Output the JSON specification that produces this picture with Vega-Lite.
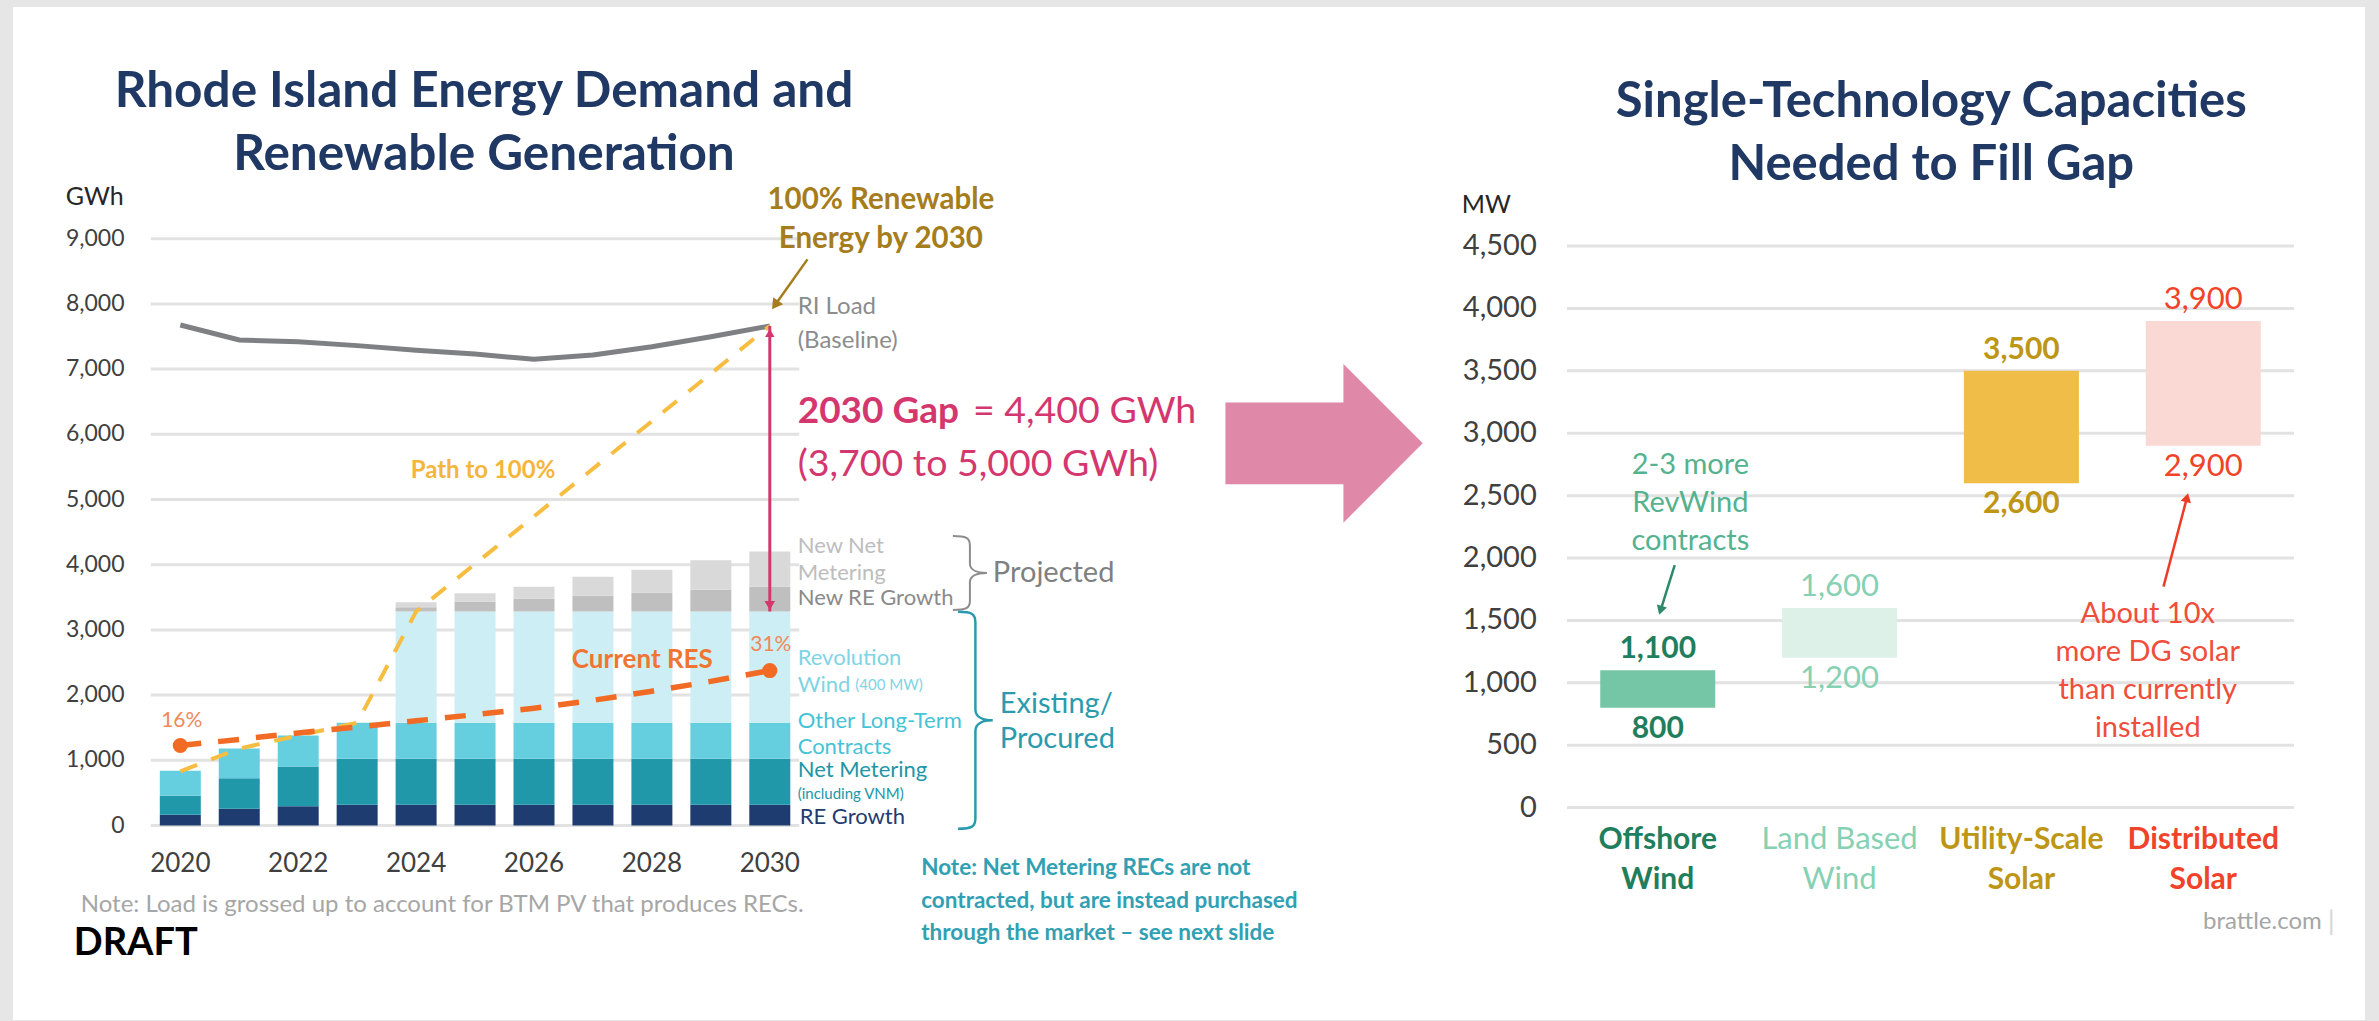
{
"$schema": "https://vega.github.io/schema/vega-lite/v6.json",
"width": 2352, "height": 1013,
"autosize": {"type": "none"},
"padding": {"left": 13, "top": 7, "right": 14, "bottom": 1},
"background": "#E6E6E6",
"config": {"font": "Lato", "view": {"stroke": null, "fill": "#FFFFFF"}, "axis": {"disable": true}},
"datasets": {
 "stack": [
  {"year":2020,"segment":"RE Growth","gwh":164},{"year":2020,"segment":"Net Metering","gwh":291},{"year":2020,"segment":"Other Long-Term Contracts","gwh":383},
  {"year":2021,"segment":"RE Growth","gwh":256},{"year":2021,"segment":"Net Metering","gwh":470},{"year":2021,"segment":"Other Long-Term Contracts","gwh":455},
  {"year":2022,"segment":"RE Growth","gwh":295},{"year":2022,"segment":"Net Metering","gwh":610},{"year":2022,"segment":"Other Long-Term Contracts","gwh":475},
  {"year":2023,"segment":"RE Growth","gwh":320},{"year":2023,"segment":"Net Metering","gwh":705},{"year":2023,"segment":"Other Long-Term Contracts","gwh":550},
  {"year":2024,"segment":"RE Growth","gwh":320},{"year":2024,"segment":"Net Metering","gwh":705},{"year":2024,"segment":"Other Long-Term Contracts","gwh":550},{"year":2024,"segment":"Revolution Wind","gwh":1707},{"year":2024,"segment":"New RE Growth","gwh":67},{"year":2024,"segment":"New Net Metering","gwh":76},
  {"year":2025,"segment":"RE Growth","gwh":320},{"year":2025,"segment":"Net Metering","gwh":705},{"year":2025,"segment":"Other Long-Term Contracts","gwh":550},{"year":2025,"segment":"Revolution Wind","gwh":1707},{"year":2025,"segment":"New RE Growth","gwh":148},{"year":2025,"segment":"New Net Metering","gwh":133},
  {"year":2026,"segment":"RE Growth","gwh":320},{"year":2026,"segment":"Net Metering","gwh":705},{"year":2026,"segment":"Other Long-Term Contracts","gwh":550},{"year":2026,"segment":"Revolution Wind","gwh":1707},{"year":2026,"segment":"New RE Growth","gwh":194},{"year":2026,"segment":"New Net Metering","gwh":184},
  {"year":2027,"segment":"RE Growth","gwh":320},{"year":2027,"segment":"Net Metering","gwh":705},{"year":2027,"segment":"Other Long-Term Contracts","gwh":550},{"year":2027,"segment":"Revolution Wind","gwh":1707},{"year":2027,"segment":"New RE Growth","gwh":240},{"year":2027,"segment":"New Net Metering","gwh":292},
  {"year":2028,"segment":"RE Growth","gwh":320},{"year":2028,"segment":"Net Metering","gwh":705},{"year":2028,"segment":"Other Long-Term Contracts","gwh":550},{"year":2028,"segment":"Revolution Wind","gwh":1707},{"year":2028,"segment":"New RE Growth","gwh":286},{"year":2028,"segment":"New Net Metering","gwh":353},
  {"year":2029,"segment":"RE Growth","gwh":320},{"year":2029,"segment":"Net Metering","gwh":705},{"year":2029,"segment":"Other Long-Term Contracts","gwh":550},{"year":2029,"segment":"Revolution Wind","gwh":1707},{"year":2029,"segment":"New RE Growth","gwh":333},{"year":2029,"segment":"New Net Metering","gwh":455},
  {"year":2030,"segment":"RE Growth","gwh":320},{"year":2030,"segment":"Net Metering","gwh":705},{"year":2030,"segment":"Other Long-Term Contracts","gwh":550},{"year":2030,"segment":"Revolution Wind","gwh":1707},{"year":2030,"segment":"New RE Growth","gwh":378},{"year":2030,"segment":"New Net Metering","gwh":542}
 ],
 "load": [{"year":2020,"gwh":7676},{"year":2021,"gwh":7446},{"year":2022,"gwh":7420},{"year":2023,"gwh":7360},{"year":2024,"gwh":7290},{"year":2025,"gwh":7230},{"year":2026,"gwh":7150},{"year":2027,"gwh":7216},{"year":2028,"gwh":7344},{"year":2029,"gwh":7497},{"year":2030,"gwh":7661}],
 "path": [{"year":2020,"gwh":830},{"year":2021,"gwh":1180},{"year":2022,"gwh":1380},{"year":2023,"gwh":1575},{"year":2024,"gwh":3282},{"year":2030,"gwh":7661}],
 "res": [{"year":2020,"gwh":1227},{"year":2021,"gwh":1320},{"year":2022,"gwh":1420},{"year":2023,"gwh":1510},{"year":2024,"gwh":1605},{"year":2025,"gwh":1700},{"year":2026,"gwh":1800},{"year":2027,"gwh":1920},{"year":2028,"gwh":2060},{"year":2029,"gwh":2210},{"year":2030,"gwh":2377}],
 "gap": [{"year":2030,"load":7661,"existing":3282}],
 "gwhTicks": [{"gwh":0},{"gwh":1000},{"gwh":2000},{"gwh":3000},{"gwh":4000},{"gwh":5000},{"gwh":6000},{"gwh":7000},{"gwh":8000},{"gwh":9000}],
 "capacity": [{"technology":"Offshore Wind","label":["Offshore","Wind"],"low":800,"high":1100},{"technology":"Land Based Wind","label":["Land Based","Wind"],"low":1200,"high":1600},{"technology":"Utility-Scale Solar","label":["Utility-Scale","Solar"],"low":2600,"high":3500},{"technology":"Distributed Solar","label":["Distributed","Solar"],"low":2900,"high":3900}],
 "mwTicks": [{"mw":0},{"mw":500},{"mw":1000},{"mw":1500},{"mw":2000},{"mw":2500},{"mw":3000},{"mw":3500},{"mw":4000},{"mw":4500}]
},
"layer": [
{
 "layer": [
  {"data": {"name": "gwhTicks"},
   "mark": {"type": "rule", "color": "#E2E2E2", "strokeWidth": 3},
   "encoding": {
    "y": {"field": "gwh", "type": "quantitative", "scale": {"domain": [-2983.1, 12553.7], "nice": false, "zero": false}, "axis": null},
    "x": {"datum": 2019.5, "type": "quantitative", "scale": {"domain": [2017.2466, 2056.9764], "nice": false, "zero": false}, "axis": null},
    "x2": {"datum": 2030.5}}},
  {"data": {"name": "gwhTicks"},
   "mark": {"type": "text", "font": "Lato", "fontSize": 23, "color": "#404040", "align": "right", "baseline": "middle"},
   "encoding": {
    "y": {"field": "gwh", "type": "quantitative", "scale": {"domain": [-2983.1, 12553.7], "nice": false, "zero": false}, "axis": null},
    "x": {"datum": 2019.054, "type": "quantitative", "scale": {"domain": [2017.2466, 2056.9764], "nice": false, "zero": false}, "axis": null},
    "text": {"field": "gwh", "type": "quantitative", "format": ","}}},
  {"data": {"name": "load"},
   "transform": [{"filter": "datum.year % 2 == 0"}],
   "mark": {"type": "text", "font": "Lato", "fontSize": 26, "color": "#404040", "align": "center", "baseline": "middle"},
   "encoding": {
    "x": {"field": "year", "type": "quantitative", "scale": {"domain": [2017.2466, 2056.9764], "nice": false, "zero": false}, "axis": null},
    "y": {"datum": -590.5, "type": "quantitative", "scale": {"domain": [-2983.1, 12553.7], "nice": false, "zero": false}, "axis": null},
    "text": {"field": "year", "type": "quantitative", "format": "d"}}},
  {"data": {"name": "stack"},
   "transform": [{"window": [{"op": "row_number", "as": "rank"}], "groupby": ["year"]}],
   "mark": {"type": "bar", "width": 41, "orient": "vertical"},
   "encoding": {
    "x": {"field": "year", "type": "quantitative", "scale": {"domain": [2017.2466, 2056.9764], "nice": false, "zero": false}, "axis": null},
    "y": {"field": "gwh", "type": "quantitative", "stack": "zero", "scale": {"domain": [-2983.1, 12553.7], "nice": false, "zero": false}, "axis": null},
    "color": {"field": "segment", "type": "nominal", "legend": null,
      "scale": {"domain": ["RE Growth","Net Metering","Other Long-Term Contracts","Revolution Wind","New RE Growth","New Net Metering"], "range": ["#1F3C70","#2198AA","#66CFDF","#CDEEF4","#BFBFBF","#D9D9D9"]}},
    "order": {"field": "rank", "type": "quantitative", "sort": "ascending"}}},
  {"data": {"name": "load"},
   "mark": {"type": "line", "color": "#7F8084", "strokeWidth": 5},
   "encoding": {"x": {"field": "year", "type": "quantitative", "scale": {"domain": [2017.2466, 2056.9764], "nice": false, "zero": false}, "axis": null},
     "y": {"field": "gwh", "type": "quantitative", "scale": {"domain": [-2983.1, 12553.7], "nice": false, "zero": false}, "axis": null}}},
  {"data": {"name": "path"},
   "mark": {"type": "line", "color": "#F6BD40", "strokeWidth": 4, "strokeDash": [18, 15]},
   "encoding": {"x": {"field": "year", "type": "quantitative", "scale": {"domain": [2017.2466, 2056.9764], "nice": false, "zero": false}, "axis": null},
     "y": {"field": "gwh", "type": "quantitative", "scale": {"domain": [-2983.1, 12553.7], "nice": false, "zero": false}, "axis": null}}},
  {"data": {"name": "res"},
   "mark": {"type": "line", "color": "#F26B24", "strokeWidth": 5.5, "strokeDash": [21, 17]},
   "encoding": {"x": {"field": "year", "type": "quantitative", "scale": {"domain": [2017.2466, 2056.9764], "nice": false, "zero": false}, "axis": null},
     "y": {"field": "gwh", "type": "quantitative", "scale": {"domain": [-2983.1, 12553.7], "nice": false, "zero": false}, "axis": null}}},
  {"data": {"name": "res"},
   "transform": [{"filter": "datum.year == 2020 || datum.year == 2030"}],
   "mark": {"type": "point", "filled": true, "size": 230, "color": "#F26B24", "opacity": 1},
   "encoding": {"x": {"field": "year", "type": "quantitative", "scale": {"domain": [2017.2466, 2056.9764], "nice": false, "zero": false}, "axis": null},
     "y": {"field": "gwh", "type": "quantitative", "scale": {"domain": [-2983.1, 12553.7], "nice": false, "zero": false}, "axis": null}}},
  {"data": {"name": "gap"},
   "mark": {"type": "rule", "color": "#D4376E", "strokeWidth": 3},
   "encoding": {"x": {"field": "year", "type": "quantitative", "scale": {"domain": [2017.2466, 2056.9764], "nice": false, "zero": false}, "axis": null},
     "y": {"field": "load", "type": "quantitative", "scale": {"domain": [-2983.1, 12553.7], "nice": false, "zero": false}, "axis": null},
     "y2": {"field": "existing"}}},
  {"data": {"name": "gap"},
   "mark": {"type": "point", "shape": "triangle-up", "filled": true, "size": 90, "color": "#D4376E", "opacity": 1, "yOffset": 7},
   "encoding": {"x": {"field": "year", "type": "quantitative", "scale": {"domain": [2017.2466, 2056.9764], "nice": false, "zero": false}, "axis": null},
     "y": {"field": "load", "type": "quantitative", "scale": {"domain": [-2983.1, 12553.7], "nice": false, "zero": false}, "axis": null}}},
  {"data": {"name": "gap"},
   "mark": {"type": "point", "shape": "triangle-down", "filled": true, "size": 110, "color": "#D4376E", "opacity": 1, "yOffset": -6},
   "encoding": {"x": {"field": "year", "type": "quantitative", "scale": {"domain": [2017.2466, 2056.9764], "nice": false, "zero": false}, "axis": null},
     "y": {"field": "existing", "type": "quantitative", "scale": {"domain": [-2983.1, 12553.7], "nice": false, "zero": false}, "axis": null}}},
  {"data": {"values": [{"year": 2030.639, "gwh": 8683, "year2": 2030.09, "gwh2": 7983}]},
   "mark": {"type": "rule", "color": "#A57D1C", "strokeWidth": 2.5},
   "encoding": {"x": {"field": "year", "type": "quantitative", "scale": {"domain": [2017.2466, 2056.9764], "nice": false, "zero": false}, "axis": null},
     "y": {"field": "gwh", "type": "quantitative", "scale": {"domain": [-2983.1, 12553.7], "nice": false, "zero": false}, "axis": null},
     "x2": {"field": "year2"}, "y2": {"field": "gwh2"}}},
  {"data": {"values": [{"year": 2030.09, "gwh": 7983}]},
   "mark": {"type": "point", "shape": "triangle-down", "angle": 35.4, "filled": true, "size": 150, "color": "#A57D1C", "opacity": 1},
   "encoding": {"x": {"field": "year", "type": "quantitative", "scale": {"domain": [2017.2466, 2056.9764], "nice": false, "zero": false}, "axis": null},
     "y": {"field": "gwh", "type": "quantitative", "scale": {"domain": [-2983.1, 12553.7], "nice": false, "zero": false}, "axis": null}}},
  {"data": {"values": [{"year": 2033.395, "gwh": 3873}]},
   "mark": {"type": "point", "shape": "M-0.46,-1C-0.1,-1 0,-0.95 0,-0.75L0,-0.25C0,-0.08 0.2,0 0.46,0C0.2,0 0,0.08 0,0.25L0,0.75C0,0.95 -0.1,1 -0.46,1", "filled": false, "size": 5476, "color": "#8C8C8C", "strokeWidth": 2, "opacity": 1},
   "encoding": {"x": {"field": "year", "type": "quantitative", "scale": {"domain": [2017.2466, 2056.9764], "nice": false, "zero": false}, "axis": null},
     "y": {"field": "gwh", "type": "quantitative", "scale": {"domain": [-2983.1, 12553.7], "nice": false, "zero": false}, "axis": null}}},
  {"data": {"values": [{"year": 2033.488, "gwh": 1613}]},
   "mark": {"type": "point", "shape": "M-0.16,-1C-0.03,-1 0,-0.98 0,-0.9L0,-0.1C0,-0.03 0.07,0 0.16,0C0.07,0 0,0.03 0,0.1L0,0.9C0,0.98 -0.03,1 -0.16,1", "filled": false, "size": 47089, "color": "#2A9BAE", "strokeWidth": 2.5, "opacity": 1},
   "encoding": {"x": {"field": "year", "type": "quantitative", "scale": {"domain": [2017.2466, 2056.9764], "nice": false, "zero": false}, "axis": null},
     "y": {"field": "gwh", "type": "quantitative", "scale": {"domain": [-2983.1, 12553.7], "nice": false, "zero": false}, "axis": null}}},
  {"data": {"values": [{"year": 2039.403, "gwh": 5861}]},
   "mark": {"type": "point", "shape": "M-1,-0.414L0.196,-0.414L0.196,-0.804L1,0L0.196,0.804L0.196,0.414L-1,0.414Z", "filled": true, "size": 38927, "color": "#E088A8", "opacity": 1},
   "encoding": {"x": {"field": "year", "type": "quantitative", "scale": {"domain": [2017.2466, 2056.9764], "nice": false, "zero": false}, "axis": null},
     "y": {"field": "gwh", "type": "quantitative", "scale": {"domain": [-2983.1, 12553.7], "nice": false, "zero": false}, "axis": null}}},
  {"data": {"values": [{"year": 2025.152, "gwh": 11255, "label": ["Rhode Island Energy Demand and", "Renewable Generation"]}]},
   "mark": {"type": "text", "font": "Lato", "fontSize": 49.5, "fontWeight": "bold", "color": "#1F3864", "align": "center", "baseline": "middle", "lineHeight": 63},
   "encoding": {"x": {"field": "year", "type": "quantitative", "scale": {"domain": [2017.2466, 2056.9764], "nice": false, "zero": false}, "axis": null},
     "y": {"field": "gwh", "type": "quantitative", "scale": {"domain": [-2983.1, 12553.7], "nice": false, "zero": false}, "axis": null}, "text": {"field": "label"}}},
  {"data": {"values": [{"year": 2018.057, "gwh": 9644, "label": "GWh"}]},
   "mark": {"type": "text", "font": "Lato", "fontSize": 25, "color": "#262626", "align": "left", "baseline": "middle"},
   "encoding": {"x": {"field": "year", "type": "quantitative", "scale": {"domain": [2017.2466, 2056.9764], "nice": false, "zero": false}, "axis": null},
     "y": {"field": "gwh", "type": "quantitative", "scale": {"domain": [-2983.1, 12553.7], "nice": false, "zero": false}, "axis": null}, "text": {"field": "label"}}},
  {"data": {"values": [{"year": 2031.884, "gwh": 9597, "label": ["100% Renewable", "Energy by 2030"]}]},
   "mark": {"type": "text", "font": "Lato", "fontSize": 29.5, "fontWeight": "bold", "color": "#A57D1C", "align": "center", "baseline": "middle", "lineHeight": 39},
   "encoding": {"x": {"field": "year", "type": "quantitative", "scale": {"domain": [2017.2466, 2056.9764], "nice": false, "zero": false}, "axis": null},
     "y": {"field": "gwh", "type": "quantitative", "scale": {"domain": [-2983.1, 12553.7], "nice": false, "zero": false}, "axis": null}, "text": {"field": "label"}}},
  {"data": {"values": [{"year": 2030.473, "gwh": 7946, "label": ["RI Load", "(Baseline)"]}]},
   "mark": {"type": "text", "font": "Lato", "fontSize": 24, "color": "#8C8C8C", "align": "left", "baseline": "middle", "lineHeight": 33.5},
   "encoding": {"x": {"field": "year", "type": "quantitative", "scale": {"domain": [2017.2466, 2056.9764], "nice": false, "zero": false}, "axis": null},
     "y": {"field": "gwh", "type": "quantitative", "scale": {"domain": [-2983.1, 12553.7], "nice": false, "zero": false}, "axis": null}, "text": {"field": "label"}}},
  {"data": {"values": [{"year": 2030.473, "gwh": 6337, "label": "2030 Gap"}]},
   "mark": {"type": "text", "font": "Lato", "fontSize": 37, "fontWeight": "bold", "color": "#D4376E", "align": "left", "baseline": "middle"},
   "encoding": {"x": {"field": "year", "type": "quantitative", "scale": {"domain": [2017.2466, 2056.9764], "nice": false, "zero": false}, "axis": null},
     "y": {"field": "gwh", "type": "quantitative", "scale": {"domain": [-2983.1, 12553.7], "nice": false, "zero": false}, "axis": null}, "text": {"field": "label"}}},
  {"data": {"values": [{"year": 2033.446, "gwh": 6337, "label": "= 4,400 GWh"}, {"year": 2030.473, "gwh": 5534, "label": "(3,700 to 5,000 GWh)"}]},
   "mark": {"type": "text", "font": "Lato", "fontSize": 37.5, "color": "#D4376E", "align": "left", "baseline": "middle"},
   "encoding": {"x": {"field": "year", "type": "quantitative", "scale": {"domain": [2017.2466, 2056.9764], "nice": false, "zero": false}, "axis": null},
     "y": {"field": "gwh", "type": "quantitative", "scale": {"domain": [-2983.1, 12553.7], "nice": false, "zero": false}, "axis": null}, "text": {"field": "label"}}},
  {"data": {"values": [{"year": 2025.135, "gwh": 5440, "label": "Path to 100%"}]},
   "mark": {"type": "text", "font": "Lato", "fontSize": 24, "fontWeight": "bold", "color": "#F4B63A", "align": "center", "baseline": "middle"},
   "encoding": {"x": {"field": "year", "type": "quantitative", "scale": {"domain": [2017.2466, 2056.9764], "nice": false, "zero": false}, "axis": null},
     "y": {"field": "gwh", "type": "quantitative", "scale": {"domain": [-2983.1, 12553.7], "nice": false, "zero": false}, "axis": null}, "text": {"field": "label"}}},
  {"data": {"values": [{"year": 2027.838, "gwh": 2538, "label": "Current RES"}]},
   "mark": {"type": "text", "font": "Lato", "fontSize": 26, "fontWeight": "bold", "color": "#F07533", "align": "center", "baseline": "middle"},
   "encoding": {"x": {"field": "year", "type": "quantitative", "scale": {"domain": [2017.2466, 2056.9764], "nice": false, "zero": false}, "axis": null},
     "y": {"field": "gwh", "type": "quantitative", "scale": {"domain": [-2983.1, 12553.7], "nice": false, "zero": false}, "axis": null}, "text": {"field": "label"}}},
  {"data": {"values": [{"year": 2020.025, "gwh": 1610, "label": "16%"}, {"year": 2030.017, "gwh": 2768, "label": "31%"}]},
   "mark": {"type": "text", "font": "Lato", "fontSize": 21, "color": "#F0895A", "align": "center", "baseline": "middle"},
   "encoding": {"x": {"field": "year", "type": "quantitative", "scale": {"domain": [2017.2466, 2056.9764], "nice": false, "zero": false}, "axis": null},
     "y": {"field": "gwh", "type": "quantitative", "scale": {"domain": [-2983.1, 12553.7], "nice": false, "zero": false}, "axis": null}, "text": {"field": "label"}}},
  {"data": {"values": [{"year": 2030.473, "gwh": 4287, "label": ["New Net", "Metering"]}]},
   "mark": {"type": "text", "font": "Lato", "fontSize": 22, "color": "#BDBDBD", "align": "left", "baseline": "middle", "lineHeight": 27},
   "encoding": {"x": {"field": "year", "type": "quantitative", "scale": {"domain": [2017.2466, 2056.9764], "nice": false, "zero": false}, "axis": null},
     "y": {"field": "gwh", "type": "quantitative", "scale": {"domain": [-2983.1, 12553.7], "nice": false, "zero": false}, "axis": null}, "text": {"field": "label"}}},
  {"data": {"values": [{"year": 2030.473, "gwh": 3489, "label": "New RE Growth"}]},
   "mark": {"type": "text", "font": "Lato", "fontSize": 22, "color": "#8A8A8A", "align": "left", "baseline": "middle"},
   "encoding": {"x": {"field": "year", "type": "quantitative", "scale": {"domain": [2017.2466, 2056.9764], "nice": false, "zero": false}, "axis": null},
     "y": {"field": "gwh", "type": "quantitative", "scale": {"domain": [-2983.1, 12553.7], "nice": false, "zero": false}, "axis": null}, "text": {"field": "label"}}},
  {"data": {"values": [{"year": 2030.473, "gwh": 2569, "label": "Revolution"}, {"year": 2030.473, "gwh": 2155, "label": "Wind"}]},
   "mark": {"type": "text", "font": "Lato", "fontSize": 22, "color": "#7FD4E4", "align": "left", "baseline": "middle"},
   "encoding": {"x": {"field": "year", "type": "quantitative", "scale": {"domain": [2017.2466, 2056.9764], "nice": false, "zero": false}, "axis": null},
     "y": {"field": "gwh", "type": "quantitative", "scale": {"domain": [-2983.1, 12553.7], "nice": false, "zero": false}, "axis": null}, "text": {"field": "label"}}},
  {"data": {"values": [{"year": 2031.45, "gwh": 2155, "label": "(400 MW)"}]},
   "mark": {"type": "text", "font": "Lato", "fontSize": 15, "color": "#7FD4E4", "align": "left", "baseline": "middle"},
   "encoding": {"x": {"field": "year", "type": "quantitative", "scale": {"domain": [2017.2466, 2056.9764], "nice": false, "zero": false}, "axis": null},
     "y": {"field": "gwh", "type": "quantitative", "scale": {"domain": [-2983.1, 12553.7], "nice": false, "zero": false}, "axis": null}, "text": {"field": "label"}}},
  {"data": {"values": [{"year": 2030.473, "gwh": 1610, "label": ["Other Long-Term", "Contracts"]}]},
   "mark": {"type": "text", "font": "Lato", "fontSize": 22, "color": "#45C3D7", "align": "left", "baseline": "middle", "lineHeight": 26.5},
   "encoding": {"x": {"field": "year", "type": "quantitative", "scale": {"domain": [2017.2466, 2056.9764], "nice": false, "zero": false}, "axis": null},
     "y": {"field": "gwh", "type": "quantitative", "scale": {"domain": [-2983.1, 12553.7], "nice": false, "zero": false}, "axis": null}, "text": {"field": "label"}}},
  {"data": {"values": [{"year": 2030.473, "gwh": 844, "label": "Net Metering"}]},
   "mark": {"type": "text", "font": "Lato", "fontSize": 22, "color": "#2196A8", "align": "left", "baseline": "middle"},
   "encoding": {"x": {"field": "year", "type": "quantitative", "scale": {"domain": [2017.2466, 2056.9764], "nice": false, "zero": false}, "axis": null},
     "y": {"field": "gwh", "type": "quantitative", "scale": {"domain": [-2983.1, 12553.7], "nice": false, "zero": false}, "axis": null}, "text": {"field": "label"}}},
  {"data": {"values": [{"year": 2030.473, "gwh": 483, "label": "(including VNM)"}]},
   "mark": {"type": "text", "font": "Lato", "fontSize": 15, "color": "#2196A8", "align": "left", "baseline": "middle"},
   "encoding": {"x": {"field": "year", "type": "quantitative", "scale": {"domain": [2017.2466, 2056.9764], "nice": false, "zero": false}, "axis": null},
     "y": {"field": "gwh", "type": "quantitative", "scale": {"domain": [-2983.1, 12553.7], "nice": false, "zero": false}, "axis": null}, "text": {"field": "label"}}},
  {"data": {"values": [{"year": 2030.507, "gwh": 130, "label": "RE Growth"}]},
   "mark": {"type": "text", "font": "Lato", "fontSize": 22, "color": "#1F3B6F", "align": "left", "baseline": "middle"},
   "encoding": {"x": {"field": "year", "type": "quantitative", "scale": {"domain": [2017.2466, 2056.9764], "nice": false, "zero": false}, "axis": null},
     "y": {"field": "gwh", "type": "quantitative", "scale": {"domain": [-2983.1, 12553.7], "nice": false, "zero": false}, "axis": null}, "text": {"field": "label"}}},
  {"data": {"values": [{"year": 2033.784, "gwh": 3873, "label": "Projected"}]},
   "mark": {"type": "text", "font": "Lato", "fontSize": 29, "color": "#808080", "align": "left", "baseline": "middle"},
   "encoding": {"x": {"field": "year", "type": "quantitative", "scale": {"domain": [2017.2466, 2056.9764], "nice": false, "zero": false}, "axis": null},
     "y": {"field": "gwh", "type": "quantitative", "scale": {"domain": [-2983.1, 12553.7], "nice": false, "zero": false}, "axis": null}, "text": {"field": "label"}}},
  {"data": {"values": [{"year": 2033.902, "gwh": 1870, "label": ["Existing/", "Procured"]}]},
   "mark": {"type": "text", "font": "Lato", "fontSize": 29, "color": "#2A9BAE", "align": "left", "baseline": "middle", "lineHeight": 35.7},
   "encoding": {"x": {"field": "year", "type": "quantitative", "scale": {"domain": [2017.2466, 2056.9764], "nice": false, "zero": false}, "axis": null},
     "y": {"field": "gwh", "type": "quantitative", "scale": {"domain": [-2983.1, 12553.7], "nice": false, "zero": false}, "axis": null}, "text": {"field": "label"}}},
  {"data": {"values": [{"year": 2018.311, "gwh": -1215, "label": "Note: Load is grossed up to account for BTM PV that produces RECs."}]},
   "mark": {"type": "text", "font": "Lato", "fontSize": 24, "color": "#A6A6A6", "align": "left", "baseline": "middle"},
   "encoding": {"x": {"field": "year", "type": "quantitative", "scale": {"domain": [2017.2466, 2056.9764], "nice": false, "zero": false}, "axis": null},
     "y": {"field": "gwh", "type": "quantitative", "scale": {"domain": [-2983.1, 12553.7], "nice": false, "zero": false}, "axis": null}, "text": {"field": "label"}}},
  {"data": {"values": [{"year": 2018.193, "gwh": -1817, "label": "DRAFT"}]},
   "mark": {"type": "text", "font": "Lato", "fontSize": 38, "fontWeight": "bold", "color": "#000000", "align": "left", "baseline": "middle"},
   "encoding": {"x": {"field": "year", "type": "quantitative", "scale": {"domain": [2017.2466, 2056.9764], "nice": false, "zero": false}, "axis": null},
     "y": {"field": "gwh", "type": "quantitative", "scale": {"domain": [-2983.1, 12553.7], "nice": false, "zero": false}, "axis": null}, "text": {"field": "label"}}},
  {"data": {"values": [{"year": 2032.568, "gwh": -652, "label": ["Note: Net Metering RECs are not", "contracted, but are instead purchased", "through the market – see next slide"]}]},
   "mark": {"type": "text", "font": "Lato", "fontSize": 22.5, "fontWeight": "bold", "color": "#31A0B3", "align": "left", "baseline": "middle", "lineHeight": 32.5},
   "encoding": {"x": {"field": "year", "type": "quantitative", "scale": {"domain": [2017.2466, 2056.9764], "nice": false, "zero": false}, "axis": null},
     "y": {"field": "gwh", "type": "quantitative", "scale": {"domain": [-2983.1, 12553.7], "nice": false, "zero": false}, "axis": null}, "text": {"field": "label"}}}
 ]
},
{
 "layer": [
  {"data": {"name": "mwTicks"},
   "mark": {"type": "rule", "color": "#E2E2E2", "strokeWidth": 3, "xOffset": -33.25, "x2Offset": 33.25},
   "encoding": {
    "y": {"field": "mw", "type": "quantitative", "scale": {"domain": [-1702.2, 6416.1], "nice": false, "zero": false}, "axis": null},
    "x": {"datum": "Offshore Wind", "type": "nominal", "bandPosition": 0, "scale": {"type": "band", "domain": ["Offshore Wind","Land Based Wind","Utility-Scale Solar","Distributed Solar"], "range": [1554, 2281], "paddingInner": 0.3675, "paddingOuter": 0.1828, "round": false}, "axis": null},
    "x2": {"datum": "Distributed Solar", "bandPosition": 1}}},
  {"data": {"name": "mwTicks"},
   "mark": {"type": "text", "font": "Lato", "fontSize": 29, "color": "#404040", "align": "right", "baseline": "middle", "dx": -121},
   "encoding": {
    "y": {"field": "mw", "type": "quantitative", "scale": {"domain": [-1702.2, 6416.1], "nice": false, "zero": false}, "axis": null},
    "x": {"datum": "Offshore Wind", "type": "nominal", "scale": {"type": "band", "domain": ["Offshore Wind","Land Based Wind","Utility-Scale Solar","Distributed Solar"], "range": [1554, 2281], "paddingInner": 0.3675, "paddingOuter": 0.1828, "round": false}, "axis": null},
    "text": {"field": "mw", "type": "quantitative", "format": ","}}},
  {"data": {"name": "capacity"},
   "mark": {"type": "bar"},
   "encoding": {
    "x": {"field": "technology", "type": "nominal", "scale": {"type": "band", "domain": ["Offshore Wind","Land Based Wind","Utility-Scale Solar","Distributed Solar"], "range": [1554, 2281], "paddingInner": 0.3675, "paddingOuter": 0.1828, "round": false}, "axis": null},
    "y": {"field": "low", "type": "quantitative", "scale": {"domain": [-1702.2, 6416.1], "nice": false, "zero": false}, "axis": null},
    "y2": {"field": "high"},
    "color": {"field": "technology", "type": "nominal", "legend": null, "scale": {"domain": ["Offshore Wind","Land Based Wind","Utility-Scale Solar","Distributed Solar"], "range": ["#74C6A6","#DDF1E9","#F0BD48","#FAD8D3"]}}}},
  {"data": {"name": "capacity"},
   "transform": [{"filter": "datum.technology != 'Land Based Wind'"}],
   "mark": {"type": "text", "font": "Lato", "fontSize": 30, "fontWeight": "bold", "baseline": "middle", "align": "center", "lineHeight": 40},
   "encoding": {
    "x": {"field": "technology", "type": "nominal", "scale": {"type": "band", "domain": ["Offshore Wind","Land Based Wind","Utility-Scale Solar","Distributed Solar"], "range": [1554, 2281], "paddingInner": 0.3675, "paddingOuter": 0.1828, "round": false}, "axis": null},
    "y": {"datum": -256.5, "type": "quantitative", "scale": {"domain": [-1702.2, 6416.1], "nice": false, "zero": false}, "axis": null},
    "text": {"field": "label"},
    "color": {"field": "technology", "type": "nominal", "legend": null, "scale": {"domain": ["Offshore Wind","Land Based Wind","Utility-Scale Solar","Distributed Solar"], "range": ["#1F7E5C","#86D1B3","#BE9615","#F0432A"]}}}},
  {"data": {"name": "capacity"},
   "transform": [{"filter": "datum.technology == 'Land Based Wind'"}],
   "mark": {"type": "text", "font": "Lato", "fontSize": 31, "baseline": "middle", "align": "center", "lineHeight": 40},
   "encoding": {
    "x": {"field": "technology", "type": "nominal", "scale": {"type": "band", "domain": ["Offshore Wind","Land Based Wind","Utility-Scale Solar","Distributed Solar"], "range": [1554, 2281], "paddingInner": 0.3675, "paddingOuter": 0.1828, "round": false}, "axis": null},
    "y": {"datum": -256.5, "type": "quantitative", "scale": {"domain": [-1702.2, 6416.1], "nice": false, "zero": false}, "axis": null},
    "text": {"field": "label"},
    "color": {"field": "technology", "type": "nominal", "legend": null, "scale": {"domain": ["Offshore Wind","Land Based Wind","Utility-Scale Solar","Distributed Solar"], "range": ["#1F7E5C","#86D1B3","#BE9615","#F0432A"]}}}},
  {"data": {"name": "capacity"},
   "transform": [{"filter": "datum.technology == 'Offshore Wind' || datum.technology == 'Utility-Scale Solar'"}],
   "mark": {"type": "text", "font": "Lato", "fontSize": 30, "fontWeight": "bold", "baseline": "middle", "align": "center", "dy": -21},
   "encoding": {
    "x": {"field": "technology", "type": "nominal", "scale": {"type": "band", "domain": ["Offshore Wind","Land Based Wind","Utility-Scale Solar","Distributed Solar"], "range": [1554, 2281], "paddingInner": 0.3675, "paddingOuter": 0.1828, "round": false}, "axis": null},
    "y": {"field": "high", "type": "quantitative", "scale": {"domain": [-1702.2, 6416.1], "nice": false, "zero": false}, "axis": null},
    "text": {"field": "high", "type": "quantitative", "format": ","},
    "color": {"field": "technology", "type": "nominal", "legend": null, "scale": {"domain": ["Offshore Wind","Land Based Wind","Utility-Scale Solar","Distributed Solar"], "range": ["#1F7E5C","#86D1B3","#BE9615","#F0432A"]}}}},
  {"data": {"name": "capacity"},
   "transform": [{"filter": "datum.technology == 'Offshore Wind' || datum.technology == 'Utility-Scale Solar'"}],
   "mark": {"type": "text", "font": "Lato", "fontSize": 30, "fontWeight": "bold", "baseline": "middle", "align": "center", "dy": 21},
   "encoding": {
    "x": {"field": "technology", "type": "nominal", "scale": {"type": "band", "domain": ["Offshore Wind","Land Based Wind","Utility-Scale Solar","Distributed Solar"], "range": [1554, 2281], "paddingInner": 0.3675, "paddingOuter": 0.1828, "round": false}, "axis": null},
    "y": {"field": "low", "type": "quantitative", "scale": {"domain": [-1702.2, 6416.1], "nice": false, "zero": false}, "axis": null},
    "text": {"field": "low", "type": "quantitative", "format": ","},
    "color": {"field": "technology", "type": "nominal", "legend": null, "scale": {"domain": ["Offshore Wind","Land Based Wind","Utility-Scale Solar","Distributed Solar"], "range": ["#1F7E5C","#86D1B3","#BE9615","#F0432A"]}}}},
  {"data": {"name": "capacity"},
   "transform": [{"filter": "datum.technology == 'Land Based Wind' || datum.technology == 'Distributed Solar'"}],
   "mark": {"type": "text", "font": "Lato", "fontSize": 31, "baseline": "middle", "align": "center", "dy": -21},
   "encoding": {
    "x": {"field": "technology", "type": "nominal", "scale": {"type": "band", "domain": ["Offshore Wind","Land Based Wind","Utility-Scale Solar","Distributed Solar"], "range": [1554, 2281], "paddingInner": 0.3675, "paddingOuter": 0.1828, "round": false}, "axis": null},
    "y": {"field": "high", "type": "quantitative", "scale": {"domain": [-1702.2, 6416.1], "nice": false, "zero": false}, "axis": null},
    "text": {"field": "high", "type": "quantitative", "format": ","},
    "color": {"field": "technology", "type": "nominal", "legend": null, "scale": {"domain": ["Offshore Wind","Land Based Wind","Utility-Scale Solar","Distributed Solar"], "range": ["#1F7E5C","#86D1B3","#BE9615","#F0432A"]}}}},
  {"data": {"name": "capacity"},
   "transform": [{"filter": "datum.technology == 'Land Based Wind' || datum.technology == 'Distributed Solar'"}],
   "mark": {"type": "text", "font": "Lato", "fontSize": 31, "baseline": "middle", "align": "center", "dy": 21},
   "encoding": {
    "x": {"field": "technology", "type": "nominal", "scale": {"type": "band", "domain": ["Offshore Wind","Land Based Wind","Utility-Scale Solar","Distributed Solar"], "range": [1554, 2281], "paddingInner": 0.3675, "paddingOuter": 0.1828, "round": false}, "axis": null},
    "y": {"field": "low", "type": "quantitative", "scale": {"domain": [-1702.2, 6416.1], "nice": false, "zero": false}, "axis": null},
    "text": {"field": "low", "type": "quantitative", "format": ","},
    "color": {"field": "technology", "type": "nominal", "legend": null, "scale": {"domain": ["Offshore Wind","Land Based Wind","Utility-Scale Solar","Distributed Solar"], "range": ["#1F7E5C","#86D1B3","#BE9615","#F0432A"]}}}},
  {"data": {"values": [{"technology": "Land Based Wind", "mw": 5657, "label": ["Single-Technology Capacities", "Needed to Fill Gap"]}]},
   "mark": {"type": "text", "font": "Lato", "fontSize": 49, "fontWeight": "bold", "color": "#1F3864", "align": "center", "baseline": "middle", "lineHeight": 63, "dx": 91.7},
   "encoding": {
    "x": {"field": "technology", "type": "nominal", "scale": {"type": "band", "domain": ["Offshore Wind","Land Based Wind","Utility-Scale Solar","Distributed Solar"], "range": [1554, 2281], "paddingInner": 0.3675, "paddingOuter": 0.1828, "round": false}, "axis": null},
    "y": {"field": "mw", "type": "quantitative", "scale": {"domain": [-1702.2, 6416.1], "nice": false, "zero": false}, "axis": null},
    "text": {"field": "label"}}},
  {"data": {"values": [{"technology": "Offshore Wind", "mw": 4829, "label": "MW"}]},
   "mark": {"type": "text", "font": "Lato", "fontSize": 25, "color": "#262626", "align": "left", "baseline": "middle", "dx": -196},
   "encoding": {
    "x": {"field": "technology", "type": "nominal", "scale": {"type": "band", "domain": ["Offshore Wind","Land Based Wind","Utility-Scale Solar","Distributed Solar"], "range": [1554, 2281], "paddingInner": 0.3675, "paddingOuter": 0.1828, "round": false}, "axis": null},
    "y": {"field": "mw", "type": "quantitative", "scale": {"domain": [-1702.2, 6416.1], "nice": false, "zero": false}, "axis": null},
    "text": {"field": "label"}}},
  {"data": {"values": [{"technology": "Offshore Wind", "mw": 2749, "label": ["2-3 more", "RevWind", "contracts"]}]},
   "mark": {"type": "text", "font": "Lato", "fontSize": 29, "color": "#55B28E", "align": "center", "baseline": "middle", "lineHeight": 38.2, "dx": 32.6},
   "encoding": {
    "x": {"field": "technology", "type": "nominal", "scale": {"type": "band", "domain": ["Offshore Wind","Land Based Wind","Utility-Scale Solar","Distributed Solar"], "range": [1554, 2281], "paddingInner": 0.3675, "paddingOuter": 0.1828, "round": false}, "axis": null},
    "y": {"field": "mw", "type": "quantitative", "scale": {"domain": [-1702.2, 6416.1], "nice": false, "zero": false}, "axis": null},
    "text": {"field": "label"}}},
  {"data": {"values": [{"technology": "Distributed Solar", "mw": 1552, "label": ["About 10x", "more DG solar", "than currently", "installed"]}]},
   "mark": {"type": "text", "font": "Lato", "fontSize": 29, "color": "#F04D3A", "align": "center", "baseline": "middle", "lineHeight": 37.9, "dx": -55.5},
   "encoding": {
    "x": {"field": "technology", "type": "nominal", "scale": {"type": "band", "domain": ["Offshore Wind","Land Based Wind","Utility-Scale Solar","Distributed Solar"], "range": [1554, 2281], "paddingInner": 0.3675, "paddingOuter": 0.1828, "round": false}, "axis": null},
    "y": {"field": "mw", "type": "quantitative", "scale": {"domain": [-1702.2, 6416.1], "nice": false, "zero": false}, "axis": null},
    "text": {"field": "label"}}},
  {"data": {"values": [{"technology": "Distributed Solar", "mw": -914, "label": "brattle.com"}]},
   "mark": {"type": "text", "font": "Lato", "fontSize": 24, "color": "#A6A6A6", "align": "right", "baseline": "middle", "dx": 118.5},
   "encoding": {
    "x": {"field": "technology", "type": "nominal", "scale": {"type": "band", "domain": ["Offshore Wind","Land Based Wind","Utility-Scale Solar","Distributed Solar"], "range": [1554, 2281], "paddingInner": 0.3675, "paddingOuter": 0.1828, "round": false}, "axis": null},
    "y": {"field": "mw", "type": "quantitative", "scale": {"domain": [-1702.2, 6416.1], "nice": false, "zero": false}, "axis": null},
    "text": {"field": "label"}}},
  {"data": {"values": [{"technology": "Distributed Solar", "mw": -914, "label": "|"}]},
   "mark": {"type": "text", "font": "Lato", "fontSize": 26, "color": "#D4D4D4", "align": "center", "baseline": "middle", "dx": 128},
   "encoding": {
    "x": {"field": "technology", "type": "nominal", "scale": {"type": "band", "domain": ["Offshore Wind","Land Based Wind","Utility-Scale Solar","Distributed Solar"], "range": [1554, 2281], "paddingInner": 0.3675, "paddingOuter": 0.1828, "round": false}, "axis": null},
    "y": {"field": "mw", "type": "quantitative", "scale": {"domain": [-1702.2, 6416.1], "nice": false, "zero": false}, "axis": null},
    "text": {"field": "label"}}},
  {"data": {"values": [{"technology": "Offshore Wind", "from": 1944, "to": 1581}]},
   "mark": {"type": "rule", "color": "#2A8A69", "strokeWidth": 2.5, "xOffset": 17, "x2Offset": 2.8},
   "encoding": {
    "x": {"field": "technology", "type": "nominal", "bandPosition": 0.5, "scale": {"type": "band", "domain": ["Offshore Wind","Land Based Wind","Utility-Scale Solar","Distributed Solar"], "range": [1554, 2281], "paddingInner": 0.3675, "paddingOuter": 0.1828, "round": false}, "axis": null},
    "x2": {"field": "technology", "bandPosition": 0.5},
    "y": {"field": "from", "type": "quantitative", "scale": {"domain": [-1702.2, 6416.1], "nice": false, "zero": false}, "axis": null},
    "y2": {"field": "to"}}},
  {"data": {"values": [{"technology": "Offshore Wind", "to": 1581}]},
   "mark": {"type": "point", "shape": "triangle-down", "angle": 17.4, "filled": true, "size": 110, "color": "#2A8A69", "opacity": 1, "xOffset": 2.8},
   "encoding": {
    "x": {"field": "technology", "type": "nominal", "scale": {"type": "band", "domain": ["Offshore Wind","Land Based Wind","Utility-Scale Solar","Distributed Solar"], "range": [1554, 2281], "paddingInner": 0.3675, "paddingOuter": 0.1828, "round": false}, "axis": null},
    "y": {"field": "to", "type": "quantitative", "scale": {"domain": [-1702.2, 6416.1], "nice": false, "zero": false}, "axis": null}}},
  {"data": {"values": [{"technology": "Distributed Solar", "from": 1771, "to": 2484}]},
   "mark": {"type": "rule", "color": "#EE3B26", "strokeWidth": 2.5, "xOffset": -39.75, "x2Offset": -16.3},
   "encoding": {
    "x": {"field": "technology", "type": "nominal", "bandPosition": 0.5, "scale": {"type": "band", "domain": ["Offshore Wind","Land Based Wind","Utility-Scale Solar","Distributed Solar"], "range": [1554, 2281], "paddingInner": 0.3675, "paddingOuter": 0.1828, "round": false}, "axis": null},
    "x2": {"field": "technology", "bandPosition": 0.5},
    "y": {"field": "from", "type": "quantitative", "scale": {"domain": [-1702.2, 6416.1], "nice": false, "zero": false}, "axis": null},
    "y2": {"field": "to"}}},
  {"data": {"values": [{"technology": "Distributed Solar", "to": 2484}]},
   "mark": {"type": "point", "shape": "triangle-up", "angle": 14.7, "filled": true, "size": 110, "color": "#EE3B26", "opacity": 1, "xOffset": -16.3},
   "encoding": {
    "x": {"field": "technology", "type": "nominal", "scale": {"type": "band", "domain": ["Offshore Wind","Land Based Wind","Utility-Scale Solar","Distributed Solar"], "range": [1554, 2281], "paddingInner": 0.3675, "paddingOuter": 0.1828, "round": false}, "axis": null},
    "y": {"field": "to", "type": "quantitative", "scale": {"domain": [-1702.2, 6416.1], "nice": false, "zero": false}, "axis": null}}}
 ],
 "resolve": {"scale": {"color": "independent"}}
}
],
"resolve": {"scale": {"x": "independent", "y": "independent", "color": "independent"}}
}
